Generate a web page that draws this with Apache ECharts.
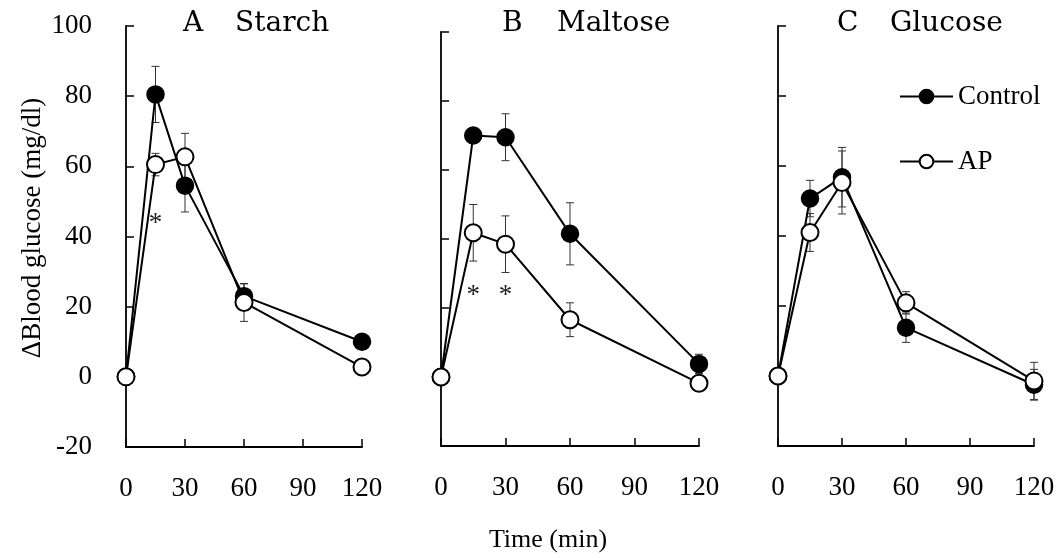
<!DOCTYPE html>
<html>
<head>
<meta charset="utf-8">
<script src="https://cdn.jsdelivr.net/npm/echarts@6/dist/echarts.min.js"></script>
<style>html,body{margin:0;padding:0;background:#fff;}#chart{width:1062px;height:558px;}</style>
</head>
<body>
<div id="chart"></div>
<script>
// ---- data ----
var times = [0, 15, 30, 60, 120];
var xTicks = [0, 30, 60, 90, 120];
var yTicks = [-20, 0, 20, 40, 60, 80, 100];
var panelLetters = ['A', 'B', 'C'];
var panelNames = ['Starch', 'Maltose', 'Glucose'];
var seriesNames = ['Control', 'AP'];

var starchControl = [0, 80.5, 54.5, 23.0, 10.0];
var starchControlSE = [0, 8.0, 7.5, 3.5, 2.0];
var starchAP = [0, 60.5, 62.7, 21.2, 2.8];
var starchAPSE = [0, 3.2, 6.7, 5.4, 2.0];

var maltoseControl = [0, 70.0, 69.5, 41.5, 3.8];
var maltoseControlSE = [0, 1.5, 6.8, 9.0, 2.8];
var maltoseAP = [0, 41.8, 38.5, 16.6, -1.8];
var maltoseAPSE = [0, 8.2, 8.2, 4.9, 2.0];

var glucoseControl = [0, 50.7, 56.8, 13.8, -2.5];
var glucoseControlSE = [0, 5.2, 8.5, 4.2, 4.4];
var glucoseAP = [0, 41.0, 55.3, 20.9, -1.4];
var glucoseAPSE = [0, 5.4, 9.0, 3.2, 5.3];

// significance marks: [panelIndex, time, yValue]
var starTimes = [[0, 15, 43.5], [1, 15, 23.5], [1, 30, 23.5]];

// ---- layout ----
var FONT = "'Liberation Serif', 'Times New Roman', serif";
var TITLE_FONT = "'DejaVu Serif', serif";
var grids = [
  {left: 126, top: 26, width: 236, height: 421},
  {left: 441, top: 32, width: 258, height: 414},
  {left: 778, top: 26, width: 256, height: 420}
];
var titlePos = [[183, 235], [502, 557], [837, 890]];

var panels = [
  {c: starchControl, cse: starchControlSE, a: starchAP, ase: starchAPSE},
  {c: maltoseControl, cse: maltoseControlSE, a: maltoseAP, ase: maltoseAPSE},
  {c: glucoseControl, cse: glucoseControlSE, a: glucoseAP, ase: glucoseAPSE}
];

function pairs(vals) { return times.map(function (t, i) { return [t, vals[i]]; }); }
function errData(vals, se) {
  var out = [];
  times.forEach(function (t, i) { if (se[i] > 0) out.push([t, vals[i] - se[i], vals[i] + se[i]]); });
  return out;
}
function errRender(params, api) {
  var x = api.value(0);
  var lo = api.coord([x, api.value(1)]);
  var hi = api.coord([x, api.value(2)]);
  var w = 4;
  var st = {stroke: '#333', lineWidth: 1};
  return {type: 'group', children: [
    {type: 'line', shape: {x1: lo[0], y1: lo[1], x2: hi[0], y2: hi[1]}, style: st},
    {type: 'line', shape: {x1: lo[0] - w, y1: lo[1], x2: lo[0] + w, y2: lo[1]}, style: st},
    {type: 'line', shape: {x1: hi[0] - w, y1: hi[1], x2: hi[0] + w, y2: hi[1]}, style: st}
  ]};
}
function starRender(params, api) {
  var p = api.coord([api.value(0), api.value(1)]);
  return {type: 'text', x: p[0], y: p[1], style: {text: '*', font: "27px " + FONT, fill: '#222', align: 'center', verticalAlign: 'middle'}};
}

var xAxes = [], yAxes = [], series = [], titles = [];
grids.forEach(function (g, k) {
  xAxes.push({
    type: 'value', gridIndex: k, min: 0, max: 120, interval: 30,
    axisLine: {onZero: false, lineStyle: {color: '#000', width: 1.8}},
    axisTick: {inside: true, length: 8, lineStyle: {color: '#000', width: 1.5}},
    splitLine: {show: false},
    axisLabel: {margin: 28, fontFamily: FONT, fontSize: 27, color: '#000'}
  });
  yAxes.push({
    type: 'value', gridIndex: k, min: -20, max: 100, interval: 20,
    axisLine: {show: true, onZero: false, lineStyle: {color: '#000', width: 1.8}},
    axisTick: {show: true, inside: true, length: 8, lineStyle: {color: '#000', width: 1.5}},
    splitLine: {show: false},
    axisLabel: {show: k === 0, margin: 34, fontFamily: FONT, fontSize: 27, color: '#000'}
  });
  var p = panels[k];
  series.push({type: 'custom', xAxisIndex: k, yAxisIndex: k, z: 1, renderItem: errRender, data: errData(p.c, p.cse), silent: true});
  series.push({type: 'custom', xAxisIndex: k, yAxisIndex: k, z: 1, renderItem: errRender, data: errData(p.a, p.ase), silent: true});
  series.push({
    name: seriesNames[0], type: 'line', xAxisIndex: k, yAxisIndex: k, z: 2, clip: false,
    data: pairs(p.c), symbol: 'circle', symbolSize: 17, showAllSymbol: true,
    lineStyle: {color: '#000', width: 2},
    itemStyle: {color: '#000', borderColor: '#000', borderWidth: 1.5}
  });
  series.push({
    name: seriesNames[1], type: 'line', xAxisIndex: k, yAxisIndex: k, z: 3, clip: false,
    data: pairs(p.a), symbol: 'circle', symbolSize: 17, showAllSymbol: true,
    lineStyle: {color: '#000', width: 2},
    itemStyle: {color: '#fff', borderColor: '#000', borderWidth: 2}
  });
  var stars = starTimes.filter(function (s) { return s[0] === k; }).map(function (s) { return [s[1], s[2]]; });
  if (stars.length) series.push({type: 'custom', xAxisIndex: k, yAxisIndex: k, z: 4, renderItem: starRender, data: stars, silent: true});
  titles.push({text: panelLetters[k], left: titlePos[k][0], top: 10, padding: 0, textStyle: {fontFamily: TITLE_FONT, fontSize: 28, fontWeight: 'normal', color: '#000'}});
  titles.push({text: panelNames[k], left: titlePos[k][1], top: 10, padding: 0, textStyle: {fontFamily: TITLE_FONT, fontSize: 28, fontWeight: 'normal', color: '#000'}});
});

var option = {
  backgroundColor: '#fff',
  animation: false,
  title: titles,
  grid: grids,
  xAxis: xAxes,
  yAxis: yAxes,
  legend: {
    data: seriesNames, orient: 'vertical', left: 899, top: 83, padding: 0,
    itemWidth: 53, itemHeight: 17, itemGap: 38,
    textStyle: {fontFamily: FONT, fontSize: 27, color: '#000'}
  },
  graphic: [
    {type: 'text', x: 33, y: 228, rotation: Math.PI / 2, style: {text: 'ΔBlood glucose (mg/dl)', font: '27px ' + FONT, fill: '#000', align: 'center', verticalAlign: 'middle'}},
    {type: 'text', x: 548, y: 540, style: {text: 'Time (min)', font: '26px ' + FONT, fill: '#000', align: 'center', verticalAlign: 'middle'}}
  ],
  series: series
};
var chart = echarts.init(document.getElementById('chart'), null, {renderer: 'canvas'});
chart.setOption(option);
</script>
</body>
</html>
